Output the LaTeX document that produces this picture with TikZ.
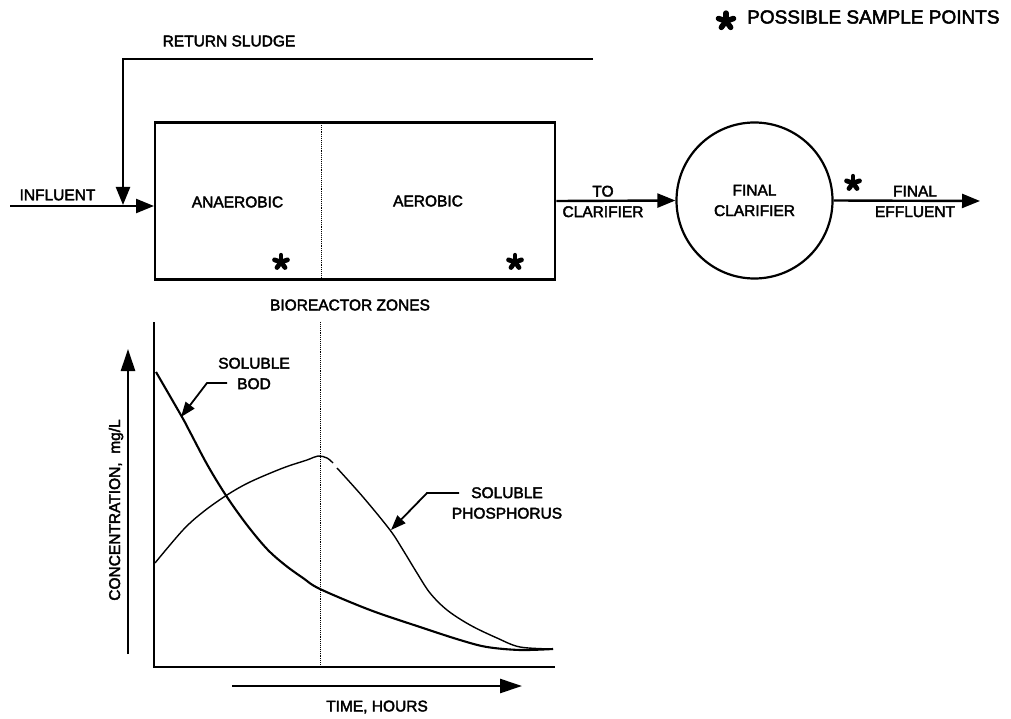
\documentclass[tikz,border=0pt]{standalone}
\usepackage{fontspec}
\setmainfont{Liberation Sans}
\newfontfamily\lblfont{Liberation Sans}[FakeBold=2.5]
\usetikzlibrary{arrows.meta}
\begin{document}
\begin{tikzpicture}[x=1pt,y=-1pt,
  lbl/.style={font=\lblfont\fontsize{15.5}{20.5}\selectfont, inner sep=0pt, align=center},
  biglbl/.style={font=\lblfont\fontsize{19}{22}\selectfont, inner sep=0pt},
  flow/.style={line width=2.4pt, -{Triangle[length=18pt,width=14pt]}},
  axisarrow/.style={line width=2.6pt, -{Triangle[length=22pt,width=14pt]}},
  lead/.style={line width=1.8pt, -{Triangle[length=15pt,width=11pt]}},
  zoneline/.style={line width=0.9pt, densely dotted},
  ast/.pic={\foreach \a in {270,342,54,126,198}
      \draw[line width=0.5*#1, line cap=round] (0,0) -- (\a:0.72*#1);}]
\useasboundingbox (0,0) rectangle (1011,719);
\fill[white] (0,0) rectangle (1011,719);

% ---------- legend ----------
\pic at (726,21) {ast=11};
\node[biglbl, anchor=west] (legend) at (747,17) {POSSIBLE SAMPLE POINTS};

% ---------- flow scheme ----------
\node[draw, line width=2.5pt, minimum width=400pt, minimum height=157pt, inner sep=0pt] (box) at (355,201) {};
\coordinate (divtop) at (321,123);
\coordinate (divbot) at (321,279);
\draw[zoneline] (divtop) -- (divbot);
\node[lbl] (anaer) at (237.5,202) {ANAEROBIC};
\node[lbl] (aer) at (428,201) {AEROBIC};
\pic at (281,262) {ast=9.5};
\pic at (515,262) {ast=9.5};
\node[lbl] (zones) at (350,305) {BIOREACTOR ZONES};

\node[circle, draw, line width=2.2pt, minimum size=156pt, inner sep=0pt, lbl] (clar) at (754.5,200.5) {FINAL\\CLARIFIER};

\coordinate (inf) at (10,206);
\coordinate (infend) at (154,206);
\draw[flow] (inf) -- (infend);
\node[lbl] (inflbl) at (57.5,195) {INFLUENT};

\coordinate (rs0) at (593,59);
\coordinate (rs1) at (123,59);
\coordinate (rstip) at (123,205);
\draw[flow] (rs0) -- (rs1) -- (rstip);
\node[lbl] (rslbl) at (229,41) {RETURN SLUDGE};

\draw[flow] (box.east) -- (clar.west);
\node[lbl] (tocl) at (603,201.5) {TO\\CLARIFIER};

\coordinate (eff) at (980,201);
\draw[flow] (clar.east) -- (eff);
\node[lbl] (efflbl) at (915,201.5) {FINAL\\EFFLUENT};
\pic at (853,183) {ast=9.5};

% ---------- graph ----------
\coordinate (ytop) at (154,322);
\coordinate (orig) at (154,667);
\coordinate (xend) at (555,667);
\draw[line width=2.6pt] (ytop) -- (orig) -- (xend);
\coordinate (gdivtop) at (320,322);
\coordinate (gdivbot) at (320,667);
\draw[zoneline] (gdivtop) -- (gdivbot);

\coordinate (cy0) at (128,654);
\coordinate (cy1) at (128,349);
\draw[axisarrow] (cy0) -- (cy1);
\node[lbl, rotate=90] (conc) at (116,510) {CONCENTRATION,\ \ mg/L};

\coordinate (tx0) at (232,686);
\coordinate (tx1) at (522,686);
\draw[axisarrow] (tx0) -- (tx1);
\node[lbl] (time) at (377,707) {TIME, HOURS};

% soluble BOD
\draw[line width=2.1pt] plot[smooth, tension=0.55] coordinates
  {(156,372) (182,417) (190,432) (208,466) (227,497) (247,525) (267,549) (285,565) (303,578) (320,589) (370,610) (420,627) (460,640) (487,647) (520,650) (553,649)};
% soluble phosphorus
\draw[line width=1.4pt] plot[smooth, tension=0.55] coordinates
  {(155,563) (183,530) (203,512) (227,495) (250,482) (283,468) (307,460) (318,456) (327,458) (333,463)};
\draw[line width=1.4pt] plot[smooth, tension=0.55] coordinates
  {(337,468) (363,497) (390,530) (403,550) (417,573) (430,593) (447,610) (470,625) (497,638) (520,647) (553,649)};

\node[lbl] (bodlbl) at (254,373.5) {SOLUBLE\\BOD};
\coordinate (bodl) at (227,383);
\coordinate (bodk) at (207,383);
\coordinate (bodtip) at (181,417);
\draw[lead] (bodl) -- (bodk) -- (bodtip);

\node[lbl] (plbl) at (507,503) {SOLUBLE\\PHOSPHORUS};
\coordinate (pl) at (459,493);
\coordinate (pk) at (427,493);
\coordinate (ptip) at (391,530);
\draw[lead] (pl) -- (pk) -- (ptip);
\end{tikzpicture}
\end{document}
